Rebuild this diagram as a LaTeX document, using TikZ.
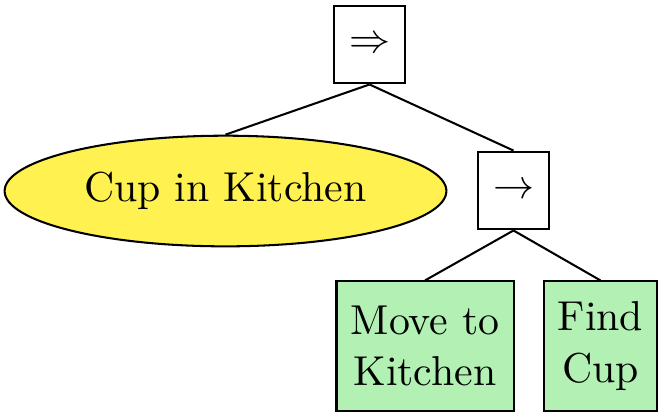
\documentclass[tikz,border=0pt]{standalone}
\usepackage{tikz}
\usepackage{amsmath, amssymb}
\usetikzlibrary{shapes}
\definecolor{cond_yellow}{RGB}{255,242,80}
\definecolor{action_green}{RGB}{178,240,180}

\begin{document}
\begin{tikzpicture}[x=0.244pt, y=-0.244pt, line width=0.5pt,
        font=\fontsize{10.2}{12.6}\selectfont,
        control_style/.style={rectangle,draw=black,minimum width=17.5pt,minimum height=19pt,inner sep=0pt},
        condition_style/.style={ellipse,draw=black,fill=cond_yellow,minimum width=107.8pt,minimum height=27pt,inner sep=0pt},
        action_style/.style={rectangle,draw=black,fill=action_green,align=center,minimum height=31.5pt,inner sep=0pt},
        edge_style/.style={draw=black,-}]

        \useasboundingbox (0,0) rectangle (663,416);
        \node [control_style](n1) at (369.5,44.5) {$\Rightarrow$};
        \node [condition_style](n2) at (225.5,191) {Cup in Kitchen};
        \node [control_style](n3) at (513.5,190.5) {$\rightarrow$};
        \node [action_style,minimum width=43.2pt](n4) at (425,346) {Move to\\Kitchen};
        \node [action_style,minimum width=27.8pt](n5) at (600.5,346) {Find\\Cup};
        \draw [edge_style] (n1.south) -- (n2.north);
        \draw [edge_style] (n1.south) -- (n3.north);
        \draw [edge_style] (n3.south) -- (n4.north);
        \draw [edge_style] (n3.south) -- (n5.north);
        \end{tikzpicture}
\end{document}
